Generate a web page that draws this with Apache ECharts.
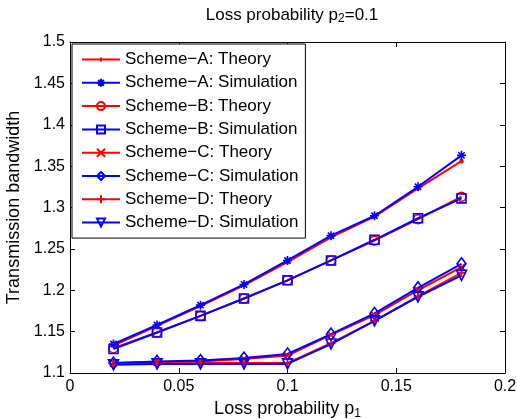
<!DOCTYPE html>
<html>
<head>
<meta charset="utf-8">
<script src="https://cdn.jsdelivr.net/npm/echarts@6/dist/echarts.min.js"></script>
<style>
  html, body { margin: 0; padding: 0; background: #fff; }
  #chart { width: 517px; height: 419px; }
</style>
</head>
<body>
<div id="chart"></div>
<script>
// loss probability p1
const p1 = [0.02, 0.04, 0.06, 0.08, 0.1, 0.12, 0.14, 0.16, 0.18]

const aTheory = [1.133, 1.157, 1.181, 1.206, 1.234, 1.264, 1.289, 1.323, 1.356]
const aSim = [1.135, 1.158, 1.182, 1.207, 1.236, 1.266, 1.290, 1.325, 1.363]
const bTheory = [1.130, 1.149, 1.169, 1.190, 1.212, 1.236, 1.260, 1.286, 1.313]
const bSim = [1.129, 1.149, 1.169, 1.190, 1.212, 1.236, 1.261, 1.287, 1.311]
const cTheory = [1.112, 1.113, 1.114, 1.117, 1.121, 1.146, 1.170, 1.200, 1.228]
const cSim = [1.112, 1.114, 1.115, 1.118, 1.123, 1.147, 1.172, 1.203, 1.232]
const dTheory = [1.111, 1.111, 1.112, 1.112, 1.112, 1.136, 1.163, 1.193, 1.221]
const dSim = [1.110, 1.111, 1.111, 1.111, 1.111, 1.135, 1.163, 1.192, 1.218]

const seriesNames = [
  'Scheme\u2212A: Theory', 'Scheme\u2212A: Simulation',
  'Scheme\u2212B: Theory', 'Scheme\u2212B: Simulation',
  'Scheme\u2212C: Theory', 'Scheme\u2212C: Simulation',
  'Scheme\u2212D: Theory', 'Scheme\u2212D: Simulation',
]
const seriesValues = [aTheory, aSim, bTheory, bSim, cTheory, cSim, dTheory, dSim]

const RED = '#ff0000'
const BLUE = '#0000ff'
const FONT = 'Liberation Sans, Arial, sans-serif'

// matlab style markers
const markers = [
  { symbol: 'circle', size: 3, fill: RED },
  { symbol: 'path://M5,0L5,10M0,5L10,5M1.5,1.5L8.5,8.5M8.5,1.5L1.5,8.5', size: 9, fill: 'none' },
  { symbol: 'path://M5,0A5,5,0,1,1,4.99,0Z', size: 9, fill: 'none' },
  { symbol: 'path://M0,0L10,0L10,10L0,10Z', size: 9, fill: 'none' },
  { symbol: 'path://M0,0L10,10M10,0L0,10', size: 7, fill: 'none' },
  { symbol: 'path://M5,0L10,7L5,14L0,7Z', size: [9, 12], fill: 'none' },
  { symbol: 'path://M5,0L5,10M0,5L10,5', size: 9, fill: 'none' },
  { symbol: 'path://M0,0L10,0L5,9Z', size: 10, fill: 'none' },
]

const chart = echarts.init(document.getElementById('chart'))

const series = seriesNames.map((name, i) => {
  const color = i % 2 === 0 ? RED : BLUE
  return {
    name: name,
    type: 'line',
    data: p1.map((x, j) => [x, seriesValues[i][j]]),
    symbol: markers[i].symbol,
    symbolSize: markers[i].size,
    showAllSymbol: true,
    animation: false,
    lineStyle: { color: color, width: 2 },
    itemStyle: { color: markers[i].fill === 'none' ? 'none' : color, borderColor: color, borderWidth: 1.6 },
    emphasis: { disabled: true },
  }
})

// first entry: line with a small dot, drawn as one filled path
const legendData = seriesNames.map((name, i) => {
  if (i === 0) {
    return {
      name: name,
      icon: 'path://M0,4L38,4L38,6L0,6ZM18,3L20,3L20,7L18,7Z',
      itemStyle: { color: RED, borderWidth: 0 },
    }
  }
  return { name: name }
})

const axisCommon = {
  type: 'value',
  axisLine: { show: true, onZero: false, lineStyle: { color: '#000', width: 1 } },
  axisTick: { show: true, inside: true, length: 5, lineStyle: { color: '#000' } },
  splitLine: { show: false },
}

const option = {
  backgroundColor: '#fff',
  title: {
    text: 'Loss probability p{sub|2}=0.1',
    left: 287,
    top: 0,
    textAlign: 'center',
    textStyle: {
      fontFamily: FONT,
      fontSize: 17,
      fontWeight: 'normal',
      color: '#000',
      rich: {
        sub: { fontFamily: FONT, fontSize: 12, verticalAlign: 'bottom', padding: [8, 0, 0, 0], color: '#000' },
      },
    },
  },
  grid: { left: 70, right: 12, top: 42, bottom: 46, outerBoundsMode: 'none' },
  legend: {
    orient: 'vertical',
    left: 72,
    top: 44,
    padding: [7, 7, 7, 9],
    itemWidth: 38,
    itemHeight: 10,
    itemGap: 6.3,
    backgroundColor: '#fff',
    borderColor: '#000',
    borderWidth: 1,
    textStyle: { fontFamily: FONT, fontSize: 17, color: '#000' },
    data: legendData,
  },
  xAxis: [
    Object.assign({}, axisCommon, {
      min: 0,
      max: 0.2,
      interval: 0.05,
      position: 'bottom',
      name: 'Loss probability p{sub|1}',
      nameLocation: 'middle',
      nameGap: 22,
      nameTextStyle: {
        fontFamily: FONT,
        fontSize: 18,
        color: '#000',
        rich: {
          sub: { fontFamily: FONT, fontSize: 12, verticalAlign: 'bottom', padding: [10, 0, 0, 0], color: '#000' },
        },
      },
      axisLabel: { fontFamily: FONT, fontSize: 16, color: '#000', margin: 6, formatter: (v) => String(+v.toFixed(2)) },
    }),
    Object.assign({}, axisCommon, {
      min: 0,
      max: 0.2,
      interval: 0.05,
      position: 'top',
      axisLabel: { show: false },
    }),
  ],
  yAxis: [
    Object.assign({}, axisCommon, {
      min: 1.1,
      max: 1.5,
      interval: 0.05,
      position: 'left',
      name: 'Transmission bandwidth',
      nameLocation: 'middle',
      nameGap: 41,
      nameTextStyle: { fontFamily: FONT, fontSize: 18, color: '#000' },
      axisLabel: { fontFamily: FONT, fontSize: 16, color: '#000', margin: 5, formatter: (v) => String(+v.toFixed(2)) },
    }),
    Object.assign({}, axisCommon, {
      min: 1.1,
      max: 1.5,
      interval: 0.05,
      position: 'right',
      axisLabel: { show: false },
    }),
  ],
  series: series,
}

chart.setOption(option)
</script>
</body>
</html>
